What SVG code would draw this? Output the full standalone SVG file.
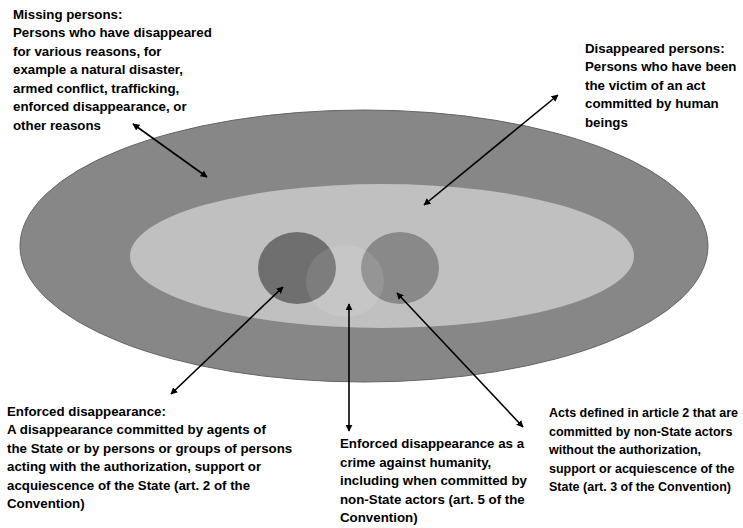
<svg xmlns="http://www.w3.org/2000/svg" width="743" height="528" viewBox="0 0 743 528">
<defs>
<marker id="ah" viewBox="0 0 10 10" refX="9" refY="5" markerWidth="7" markerHeight="7" markerUnits="userSpaceOnUse" orient="auto-start-reverse">
<path d="M0,0 L10,5 L0,10 z" fill="#000"/>
</marker>
<style>
text{font-family:"Liberation Sans",Arial,sans-serif;font-weight:bold;font-size:13.3px;fill:#000}
#label-nonstate text{font-size:12.5px}
.c{stroke:#000;stroke-width:1.6;fill:none;marker-start:url(#ah);marker-end:url(#ah)}
</style>
</defs>
<rect width="743" height="528" fill="#fff"/>
<g id="missing-persons">
<ellipse cx="364" cy="246" rx="344" ry="136" fill="#878787" stroke="#666" stroke-width="1"/>
</g>
<g id="disappeared-persons">
<ellipse cx="382" cy="256" rx="252" ry="72" fill="#c0c0c0"/>
</g>
<g id="enforced-disappearance">
<ellipse cx="297" cy="268" rx="39" ry="36" fill="#6f6f6f"/>
</g>
<g id="non-state-acts">
<ellipse cx="400" cy="268" rx="39" ry="36" fill="#898989"/>
</g>
<g id="crime-against-humanity">
<ellipse cx="345" cy="281" rx="39" ry="36" fill="#ffffff" fill-opacity="0.1"/>
</g>
<g id="connectors">
<line class="c" x1="133" y1="124" x2="207" y2="177"/>
<line class="c" x1="558" y1="95" x2="424" y2="205"/>
<line class="c" x1="283" y1="287" x2="171" y2="394"/>
<line class="c" x1="349" y1="304" x2="349" y2="431"/>
<line class="c" x1="397" y1="293" x2="523" y2="427"/>
</g>
<g id="label-missing">
<text x="13" y="18.5">Missing persons:</text>
<text x="13" y="37">Persons who have disappeared</text>
<text x="13" y="55.5">for various reasons, for</text>
<text x="13" y="74">example a natural disaster,</text>
<text x="13" y="92.5">armed conflict, trafficking,</text>
<text x="13" y="111">enforced disappearance, or</text>
<text x="13" y="129.5">other reasons</text>
</g>
<g id="label-disappeared">
<text x="585" y="52.5">Disappeared persons:</text>
<text x="585" y="71">Persons who have been</text>
<text x="585" y="89.5">the victim of an act</text>
<text x="585" y="108">committed by human</text>
<text x="585" y="126.5">beings</text>
</g>
<g id="label-enforced">
<text x="7" y="415.5">Enforced disappearance:</text>
<text x="7" y="434">A disappearance committed by agents of</text>
<text x="7" y="452.5">the State or by persons or groups of persons</text>
<text x="7" y="471">acting with the authorization, support or</text>
<text x="7" y="489.5">acquiescence of the State (art. 2 of the</text>
<text x="7" y="508">Convention)</text>
</g>
<g id="label-crime">
<text x="340" y="448">Enforced disappearance as a</text>
<text x="340" y="466.5">crime against humanity,</text>
<text x="340" y="485">including when committed by</text>
<text x="340" y="503.5">non-State actors (art. 5 of the</text>
<text x="340" y="522">Convention)</text>
</g>
<g id="label-nonstate">
<text x="549" y="417">Acts defined in article 2 that are</text>
<text x="549" y="435.5">committed by non-State actors</text>
<text x="549" y="454">without the authorization,</text>
<text x="549" y="472.5">support or acquiescence of the</text>
<text x="549" y="491">State (art. 3 of the Convention)</text>
</g>
</svg>
